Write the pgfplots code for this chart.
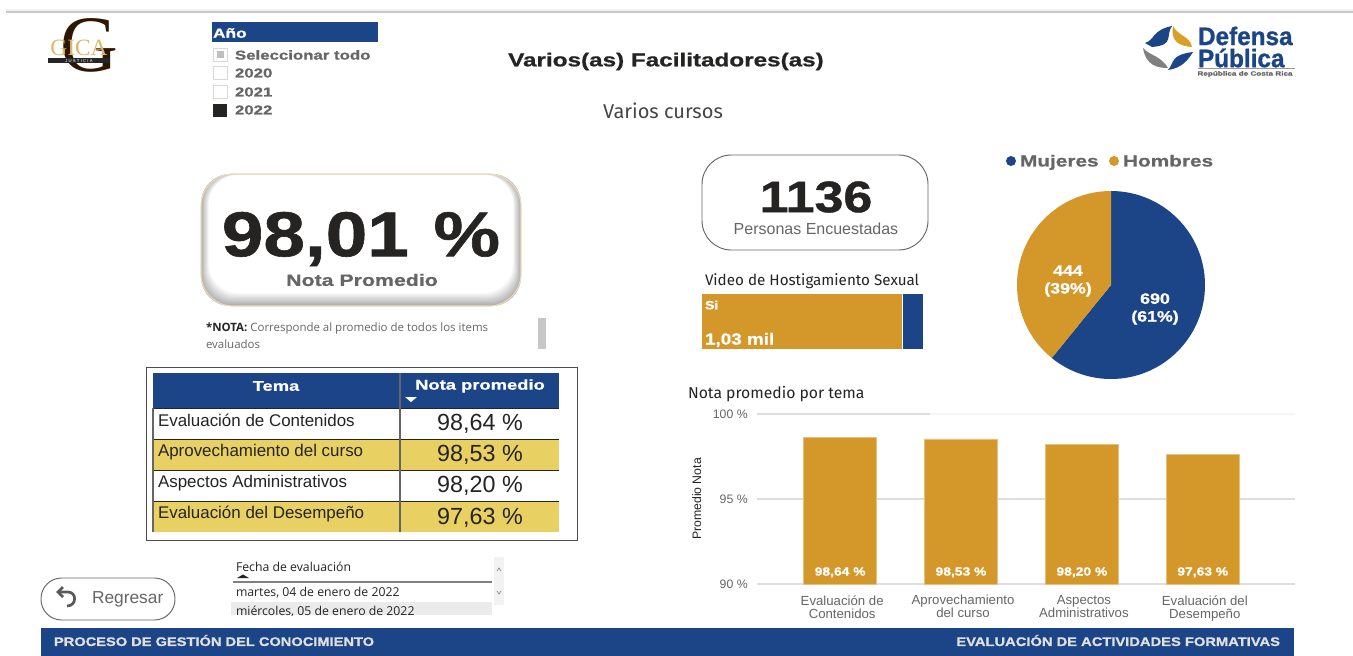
\documentclass[border=0pt]{standalone}
\usepackage{fontspec}
\usepackage{pgfplots}
\pgfplotsset{compat=1.18}
\setmainfont{Liberation Sans}
\newfontfamily\wide[FakeStretch=1.18,FakeBold=1]{Liberation Sans}
\newfontfamily\wider[FakeStretch=1.3,FakeBold=0.8]{Liberation Sans}
\newfontfamily\din{Fira Sans}
\newfontfamily\segoe{Open Sans}
\newfontfamily\serifo{Liberation Serif}
\newfontfamily\narrow[FakeStretch=0.96,FakeBold=1]{Liberation Sans}
\definecolor{azul}{HTML}{1C4587}
\definecolor{oro}{HTML}{D4972A}
\definecolor{amar}{HTML}{E8D162}
\definecolor{txt}{HTML}{666666}
\definecolor{negro}{HTML}{252423}
\definecolor{rejilla}{HTML}{DEDEDE}
\newcommand{\wb}{\wide\bfseries}
\newcommand{\wc}{\wider\bfseries}
\newcommand{\fs}[1]{\fontsize{#1}{#1}\selectfont}
\pgfmathsetmacro{\angm}{360*(690/1134)}
\begin{document}
\begin{tikzpicture}[x=0.75pt,y=-0.75pt,every node/.style={inner sep=0pt,outer sep=0pt}]
\useasboundingbox (0,0) rectangle (1353,656);
\fill[white] (0,0) rectangle (1353,656);
% linea superior
\fill[black!6] (6,9) rectangle (1353,11);
\fill[black!22] (6,11) rectangle (1353,13);

% logo GICA
\node[text=black!70!orange!60!black,font={\serifo\fs{60}}] at (89,45) {G};
\node[text=oro!70!white,font={\serifo\fs{17.5}}] at (79,48) {GICA};
\fill[black!85] (48,58.5) rectangle (110,63);
\node[text=white,font={\fs{3.2}}] at (79,60.8) {J U S T I C I A};

% slicer
\fill[azul] (212,22) rectangle (378,42);
\node[anchor=west,text=white,font={\wc\fs{10}}] at (213,33) {Año};
\draw[black!15,fill=white] (213,48) rectangle (227,61);
\fill[black!25] (216.5,51) rectangle (223.5,58);
\draw[black!15,fill=white] (213,66) rectangle (227,79);
\draw[black!15,fill=white] (213,85) rectangle (227,98);
\fill[negro] (213,104) rectangle (227,117);
\foreach \y/\s in {55/Seleccionar todo,73/2020,92/2021,110/2022}
  \node[anchor=west,text=txt,font={\wc\fs{9.7}}] at (235,\y) {\s};

% titulos
\node[text=negro,font={\wc\fs{14}}] at (666,61.5) {Varios(as) Facilitadores(as)};
\node[text=negro!85,font={\din\fs{15}}] at (663,111) {Varios cursos};

% logo defensa
\fill[azul] (1145,43) .. controls (1155,40) and (1152,30) .. (1172,26) .. controls (1165,36) and (1175,45) .. (1152,47) -- cycle;
\fill[oro!90!yellow] (1173,26) .. controls (1178,36) and (1190,36) .. (1192,47) .. controls (1180,46) and (1170,42) .. cycle;
\fill[black!50] (1143,48) .. controls (1150,56) and (1160,55) .. (1168,68) .. controls (1158,68) and (1146,66) .. cycle;
\fill[azul] (1168,70) .. controls (1175,62) and (1170,55) .. (1193,52) .. controls (1188,60) and (1182,68) .. cycle;
\node[anchor=west,text=azul,font={\narrow\bfseries\fs{19}}] at (1198,36) {Defensa};
\node[anchor=west,text=azul,font={\narrow\bfseries\fs{19}}] at (1198,58) {Pública};
\draw[black!40,line width=0.6pt] (1198,68.5) -- (1295,68.5);
\node[text=txt,font={\wider\bfseries\fs{4.7}}] at (1245,74) {República de Costa Rica};

% tarjeta nota promedio
\foreach \k in {0,...,10}{
  \pgfmathsetmacro{\cc}{68+32*\k/10}
  \fill[white!\cc!black, rounded corners=22pt] (201+\k*0.8,174+\k*0.1) rectangle (521-\k*0.8,306-\k*1.3);
}
\draw[oro!35!white,line width=0.8pt,rounded corners=24pt] (201,174) rectangle (521,306);
\node[text=negro,font={\wb\fs{47.5}}] at (361,239) {98,01\ \kern3pt\%};
\node[text=txt,font={\wc\fs{12.3}}] at (362,280) {Nota Promedio};

% nota
\node[anchor=west,text=txt,font={\segoe\fs{8.6}}] at (206,328.5) {\textbf{\textcolor{negro}{*NOTA:}} Corresponde al promedio de todos los items};
\node[anchor=west,text=txt,font={\segoe\fs{8.6}}] at (206,344) {evaluados};
\fill[black!22] (538,318) rectangle (546,349);

% tabla
\draw[black!70,line width=0.6pt] (146,367) rectangle (577,540);
\fill[azul] (153,373) rectangle (559,408);
\fill[amar] (153,439) rectangle (559,470);
\fill[amar] (153,501) rectangle (559,532);
\draw[negro,line width=0.6pt] (153,408) -- (559,408) (153,439) -- (559,439) (153,470) -- (559,470) (153,501) -- (559,501);
\draw[negro!70,line width=0.8pt] (400,373) -- (400,532) (153,408) -- (153,532);
\node[text=white,font={\wc\fs{10.6}}] at (276,386) {Tema};
\node[text=white,font={\wc\fs{10.6}}] at (480,386) {Nota promedio};
\fill[white] (405,397) -- (417,397) -- (411,402) -- cycle;
\foreach \y/\s in {420/Evaluación de Contenidos,452/Aprovechamiento del curso,483/Aspectos Administrativos,514/Evaluación del Desempeño}
  \node[anchor=west,text=negro,font={\fs{12.7}}] at (158,\y) {\s};
\foreach \y/\s in {424/{98,64},455/{98,53},486/{98,20},518/{97,63}}
  \node[text=negro,font={\fs{17.5}}] at (480,\y) {\s\ \%};

% boton
\draw[black!60,line width=0.7pt,rounded corners=15.5pt] (41,578) rectangle (175,620);
\draw[black!65,line width=2pt] (59,592) -- (68,592) .. controls (77,592) and (77,606) .. (67,606);
\draw[black!65,line width=2pt] (63,587) -- (58,592) -- (63,597);
\node[anchor=west,text=txt,font={\fs{13}}] at (92,599) {Regresar};

% slicer fecha
\node[anchor=west,text=negro,font={\segoe\fs{9.2}}] at (236,567) {Fecha de evaluación};
\fill[negro] (237,578) -- (243,574.5) -- (249,578) -- cycle;
\draw[black!50,line width=0.8pt] (233,582) -- (492,582);
\node[anchor=west,text=negro,font={\segoe\fs{9.2}}] at (236,593) {martes, 04 de enero de 2022};
\fill[black!8] (231,602) rectangle (492,615);
\begin{scope}
\clip (231,602) rectangle (492,615);
\node[anchor=west,text=negro,font={\segoe\fs{9.2}}] at (236,612) {miércoles, 05 de enero de 2022};
\end{scope}
\fill[black!5] (494,557) rectangle (504,605);
\draw[black!50,line width=0.5pt] (497,571) -- (499,568) -- (501,571) (497,591) -- (499,594) -- (501,591);

% encuestadas
\draw[black!60,line width=0.7pt,rounded corners=22pt] (702,155) rectangle (928,250);
\node[text=negro,font={\wb\fs{33}}] at (816,197) {1136};
\node[text=txt,font={\fs{12}}] at (816,229) {Personas Encuestadas};

% leyenda
\fill[azul] (1011,161) circle (5);
\fill[oro] (1114,161) circle (5);
\node[anchor=base west,text=txt,font={\wc\fs{12}}] at (1020,166.5) {Mujeres};
\node[anchor=base west,text=txt,font={\wc\fs{12}}] at (1123,166.5) {Hombres};

% video
\node[anchor=west,text=negro,font={\din\fs{11.4}}] at (705,281) {Video de Hostigamiento Sexual};
\begin{axis}[
  at={(525.75pt,-261.75pt)},anchor=south west,scale only axis,
  width=166.5pt,height=42pt,hide axis,
  xmin=0,xmax=1136,ymin=-0.5,ymax=0.5,
  xbar stacked,bar width=42pt,
]
\addplot[fill=oro,draw=white,line width=0.5pt] coordinates {(1030,0)};
\addplot[fill=azul,draw=white,line width=0.5pt] coordinates {(106,0)};
\end{axis}
\node[anchor=west,text=white,font={\wb\fs{9}}] at (705,305) {Si};
\node[anchor=west,text=white,font={\wb\fs{12}}] at (705,340) {1,03 mil};

% pie
\begin{axis}[
  at={(762.75pt,-284.25pt)},anchor=south west,scale only axis,
  width=141pt,height=141pt,hide axis,
  xmin=-1,xmax=1,ymin=-1,ymax=1,
]
\fill[azul] (axis cs:0,0) -- (axis cs:0,1) arc[start angle=90,delta angle=-\angm,radius=70.5pt] -- cycle;
\fill[oro] (axis cs:0,0) -- (axis cs:0,1) arc[start angle=90,delta angle=360-\angm,radius=70.5pt] -- cycle;
\end{axis}
\node[text=white,font={\wb\fs{11.3}},align=center] at (1155,309) {690\\[2pt](61\%)};
\node[text=white,font={\wb\fs{11.3}},align=center] at (1068,281) {444\\[2pt](39\%)};

% barras
\node[anchor=west,text=negro,font={\din\fs{11.8}}] at (688,394) {Nota promedio por tema};
\begin{axis}[
  at={(567.75pt,-438pt)},anchor=south west,scale only axis,
  width=403.5pt,height=127.5pt,
  xmin=-0.688,xmax=3.763,ymin=90,ymax=100,
  xtick={0,1,2,3},
  xticklabels={{Evaluación de\\Contenidos},{Aprovechamiento\\del curso},{Aspectos\\Administrativos},{Evaluación del\\Desempeño}},
  ytick={90,95,100},
  yticklabel={\pgfmathprintnumber{\tick}~\%},
  /pgf/number format/assume math mode=true,
  axis line style={draw=none},
  tick style={draw=none},
  ymajorgrids,
  grid style={rejilla,line width=1pt},
  tick label style={text=txt,font={\fs{9.2}}},
  yticklabel style={xshift=-7pt},
  xticklabel style={align=center,font={\fs{9.9}\baselineskip=9.8pt},yshift=-8.5pt,xshift=1.5pt},
  every axis y label/.style={at={(axis description cs:-0.112,0.5)},rotate=90,anchor=center},
  ylabel={Promedio Nota},
  ylabel style={text=negro,font={\fs{9.2}}},
  clip=false,
]
\draw[white!96!black,line width=1.2pt] (axis cs:0.746,100) -- (axis cs:3.763,100);
\addplot[ybar,bar width=54.75pt,fill=oro,draw=oro!60!white,line width=0.3pt] coordinates {(0,98.64) (1,98.53) (2,98.20) (3,97.63)};
\addplot[only marks,mark=none,point meta=explicit,
  nodes near coords={\pgfmathprintnumber[fixed,fixed zerofill,precision=2,use comma]{\pgfplotspointmeta}~\%},
  nodes near coords style={anchor=south,text=white,font={\wb\fs{8.8}},yshift=4pt,inner sep=1pt},
] coordinates {(0,90) [98.64] (1,90) [98.53] (2,90) [98.20] (3,90) [97.63]};
\end{axis}

% pie de pagina
\fill[azul] (41,628) rectangle (1294,656);
\node[anchor=west,text=black!12,font={\wb\fs{9.3}}] at (54,640.5) {PROCESO DE GESTIÓN DEL CONOCIMIENTO};
\node[anchor=east,text=black!12,font={\wb\fs{9.35}}] at (1280,640.5) {EVALUACIÓN DE ACTIVIDADES FORMATIVAS};
\end{tikzpicture}
\end{document}
